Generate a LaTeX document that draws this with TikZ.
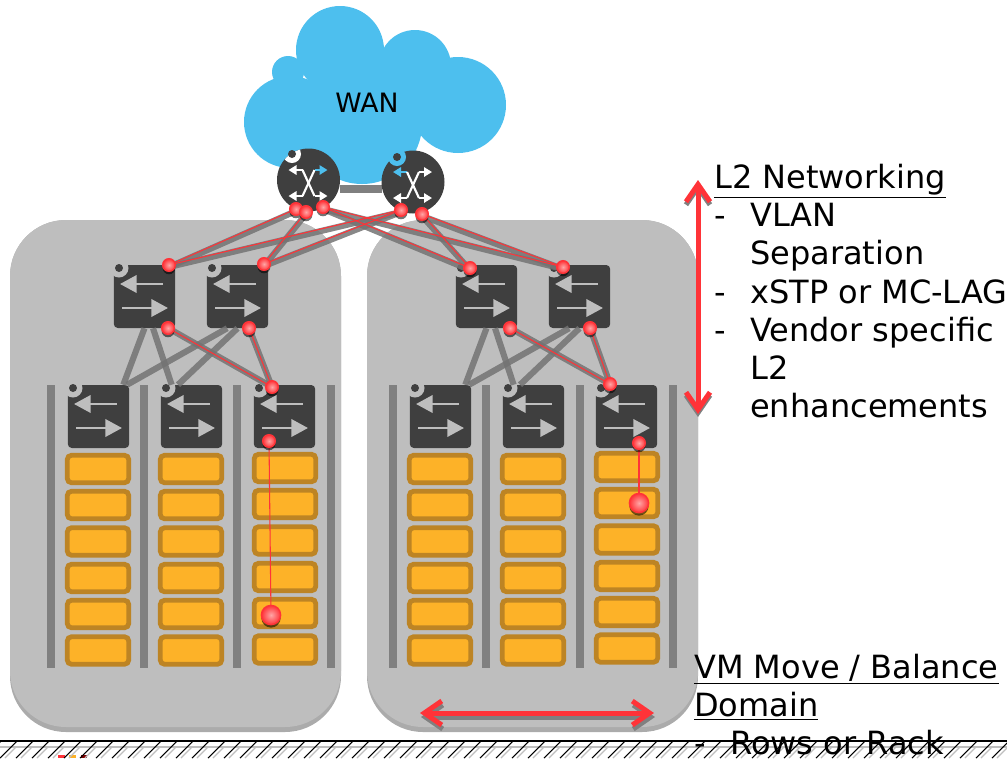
\documentclass[tikz,border=0pt]{standalone}
\usepackage{fontspec}
\setmainfont{DejaVu Sans}
\usetikzlibrary{arrows.meta}
\usetikzlibrary{calc}
\usetikzlibrary{shadows}
\definecolor{cloudblue}{HTML}{4DBFEE}
\definecolor{panelgray}{HTML}{BEBEBE}
\definecolor{paneledge}{HTML}{ABABAB}
\definecolor{boxdark}{HTML}{3F3F3F}
\definecolor{barred}{HTML}{FF3338}
\definecolor{srvfill}{HTML}{FDB228}
\definecolor{srvedge}{HTML}{BD8424}
\tikzstyle{switchbox}=[rectangle,fill=boxdark,rounded corners=3pt,minimum width=46pt,minimum height=47.25pt,inner sep=0]
\tikzstyle{router}=[circle,fill=boxdark,minimum size=47.25pt,inner sep=0]
\tikzstyle{server}=[rectangle,fill=srvfill,draw=srvedge,line width=3.6pt,rounded corners=3pt,minimum width=46pt,minimum height=20.5pt,inner sep=0]
\tikzstyle{reddot}=[circle,draw=barred,line width=1pt,inner color=red!35!white,outer color=barred,minimum size=9.5pt,inner sep=0,drop shadow={shadow xshift=0pt,shadow yshift=-2.2pt,opacity=.55,fill=black}]
\tikzstyle{graylink}=[draw=black!55,opacity=.85,line width=4.6pt]
\tikzstyle{uplink}=[graylink,transform canvas={yshift=-1.5pt}]
\tikzstyle{redlink}=[draw=barred,line width=.8pt]
\tikzstyle{bigarrow}=[line width=3.75pt,{Straight Barb[length=13pt,width=18pt]}-{Straight Barb[length=13pt,width=18pt]}]
\tikzstyle{blocktext}=[anchor=north west,inner sep=0,align=left,font=\fontsize{24}{28.65}\selectfont]
\newcommand{\dashitem}{\makebox[27pt][l]{-}}
\newcommand{\swicon}[2]{
  \draw[panelgray,line width=2pt,-{Triangle[length=12.5pt,width=13pt]}] (#1+49,#2+19) -- (#1+6,#2+19);
  \draw[panelgray,line width=2pt,-{Triangle[length=12.5pt,width=13pt]}] (#1+8,#2+43) -- (#1+54,#2+43);
}
\newcommand{\rticon}[4]{
  \draw[#3,line width=1.6pt,-{Triangle[length=6pt,width=7pt]}] (#1+6,#2-10) -- (#1+19,#2-10);
  \draw[white,line width=1.6pt] (#1-6,#2+16) -- (#1+6,#2-10);
  \draw[#4,line width=1.6pt,-{Triangle[length=6pt,width=7pt]}] (#1-6,#2-10) -- (#1-20,#2-10);
  \draw[white,line width=1.6pt] (#1-6,#2-10) -- (#1+6,#2+16);
  \draw[white,line width=1.6pt,-{Triangle[length=6pt,width=7pt]}] (#1-6,#2+16) -- (#1-20,#2+16);
  \draw[white,line width=1.6pt,-{Triangle[length=6pt,width=7pt]}] (#1+6,#2+16) -- (#1+19,#2+16);
}
\begin{document}
\begin{tikzpicture}[x=.75pt,y=-.75pt]
\useasboundingbox (0,0) rectangle (1007,758);

%cloud
\foreach \qx/\qy/\qr in {340/50/44,415/66/36,458/105/48,290/122/46,288/72/16,362/124/60,370/104/56}
  \fill[cloudblue] (\qx,\qy) circle [radius=\qr];
\node (wan) at (367,103) {\fontsize{20}{24}\selectfont WAN};

%panels
\foreach \dx in {0,357} {
  \fill[paneledge,rounded corners=42pt] (10+\dx,220) rectangle (341+\dx,732);
  \fill[panelgray,rounded corners=42pt] (10+\dx,220) rectangle (341+\dx,727);
}

%racks
\foreach \bx in {47,140,233,327,389,482,576,669}
  \fill[black!50] (\bx,385) rectangle (\bx+8,668);

\foreach \cx/\cy in {98/0,191/0,285/-1,440/0,533/0,627/-2} {
  \foreach \ry in {469,505,541.5,578,614,650.5}
    \node (srv\cx-\ry) [server] at (\cx,\ry+\cy) {};
}

%switches
\path (144.5,296.5) node (spineA) [switchbox] {}
      +(93,0) node (spineB) [switchbox] {}
      (486.5,296.5) node (spineC) [switchbox] {}
      +(93,0) node (spineD) [switchbox] {};
\path (98.5,416.5) node (leafA) [switchbox] {}
      +(93,0) node (leafB) [switchbox] {}
      +(186,0) node (leafC) [switchbox] {}
      (440.5,416.5) node (leafD) [switchbox] {}
      +(93,0) node (leafE) [switchbox] {}
      +(186,0) node (leafF) [switchbox] {};

\foreach \sx/\sy in {114/265,207/265,456/265,549/265,68/385,161/385,254/385,410/385,503/385,596/385} {
  \swicon{\sx}{\sy}
  \fill[panelgray] (\sx+5,\sy+3) circle [radius=9.5];
  \fill[boxdark] (\sx+5,\sy+3) circle [radius=4];
}

%routers
\draw[black!50,line width=6pt] (340,188.5) -- (382,188.5);
\path (308.5,180) node (rtA) [router] {}
      (413,182) node (rtB) [router] {};
\begin{scope}
  \clip (308.5,180) circle [radius=31.5];
  \fill[white] (292,154) circle [radius=9];
\end{scope}
\fill[boxdark] (292,154) circle [radius=4];
\fill[cloudblue] (397,157) circle [radius=9];
\fill[boxdark] (397,157) circle [radius=4];
\rticon{308.5}{180}{cloudblue}{white}
\rticon{413}{182}{white}{cloudblue}

%ports
\path (296,209) coordinate (pA)
      (306,212) coordinate (pB)
      (323,207) coordinate (pC)
      (401,210) coordinate (pD)
      (422,214) coordinate (pE)
      (169,265) coordinate (pF)
      (264,264) coordinate (pG)
      (470,268) coordinate (pH)
      (563,267) coordinate (pI)
      (168,328) coordinate (pJ)
      (249,328) coordinate (pK)
      (510,328) coordinate (pL)
      (590,328) coordinate (pM)
      (272,387) coordinate (pN)
      (610,384) coordinate (pO)
      (269,441) coordinate (pP)
      (639,443) coordinate (pQ)
      (271,615) coordinate (pR)
      (639,503) coordinate (pS);

%gray links
\draw (pA) edge [uplink] (pF)
      (pB) edge [uplink] (pG)
      (pC) edge [uplink] (pH)
      (pC) edge [uplink] (pI)
      (pD) edge [uplink] (pF)
      (pD) edge [uplink] (pG)
      (pE) edge [uplink] (pH)
      (pE) edge [uplink] (pI)
      (pJ) edge [graylink] (pN)
      (pK) edge [graylink] (pN)
      (pL) edge [graylink] (pO)
      (pM) edge [graylink] (pO);
\draw (spineA.270) edge [graylink] (leafA.52)
      (spineA.-75) edge [graylink] (leafB.122)
      (spineB.-108) edge [graylink] (leafA.48)
      (spineB.-90) edge [graylink] (leafB.113)
      (spineC.270) edge [graylink] (leafD.52)
      (spineC.-75) edge [graylink] (leafE.122)
      (spineD.-108) edge [graylink] (leafD.48)
      (spineD.-90) edge [graylink] (leafE.113);

%red links
\draw (pA) edge [redlink] (pF)
      (pB) edge [redlink] (pG)
      (pC) edge [redlink] (pH)
      (pC) edge [redlink] (pI)
      (pD) edge [redlink] (pF)
      (pD) edge [redlink] (pG)
      (pE) edge [redlink] (pH)
      (pE) edge [redlink] (pI)
      (pJ) edge [redlink] (pN)
      (pK) edge [redlink] (pN)
      (pL) edge [redlink] (pO)
      (pM) edge [redlink] (pO)
      (pP) edge [redlink] (pR)
      (pQ) edge [redlink] (pS);

\foreach \p in {pA,pB,pC,pD,pE,pF,pG,pH,pI,pJ,pK,pL,pM,pN,pO,pP,pQ}
  \node (\p dot) [reddot] at (\p) {};
\node (pRdot) [reddot,minimum width=12.5pt,minimum height=14.5pt] at (pR) {};
\node (pSdot) [reddot,minimum width=12.5pt,minimum height=14.5pt] at (pS) {};

%big arrows
\path (698,180) coordinate (vtop) +(0,234) coordinate (vbot)
      (420,713) coordinate (hleft) +(234,0) coordinate (hright);
\draw[bigarrow,black!50] ($(vtop)+(0,3)$) -- ($(vbot)+(0,3)$);
\draw[bigarrow,barred] (vtop) -- (vbot);
\draw[bigarrow,black!50] ($(hleft)+(1,4)$) -- ($(hright)+(1,4)$);
\draw[bigarrow,barred] (hleft) -- (hright);

%ground
\fill[barred] (58,755) rectangle (65,758);
\fill[srvfill] (69,755) rectangle (76,758);
\fill[red!50!black] (81,755) rectangle (87,758);
\draw[black!25,line width=1.2pt] (0,747) -- (1007,747);
\foreach \hx in {-16,0,...,1008} {
  \draw[black!25,line width=1pt] (\hx+5,758) -- (\hx+16,747);
  \draw[black,line width=.8pt] (\hx,758) -- (\hx+17,741);
}
\draw[black,line width=1.5pt] (0,741) -- (1007,741);

%text blocks
\node (l2text) [blocktext] at (714,164) {\underline{L2 Networking}\\
\dashitem VLAN\\
\hspace*{27pt}Separation\\
\dashitem xSTP or MC-LAG\\
\dashitem Vendor specific\\
\hspace*{27pt}L2\\
\hspace*{27pt}enhancements};
\node (vmtext) [blocktext] at (694,654) {\underline{VM Move / Balance}\\
\underline{Domain}\\
\dashitem Rows or Rack};
\end{tikzpicture}
\end{document}
